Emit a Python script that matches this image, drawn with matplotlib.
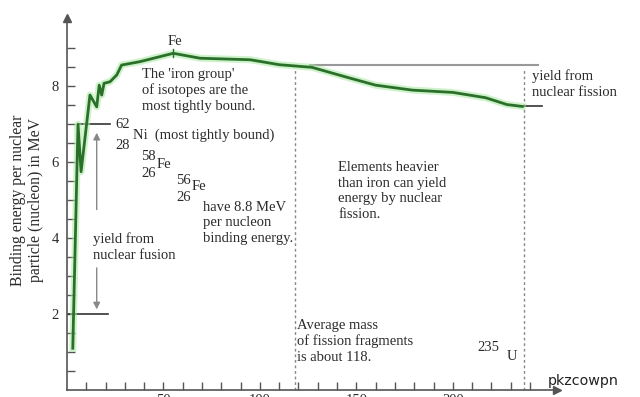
import numpy as np
import matplotlib
matplotlib.use("Agg")
import matplotlib.pyplot as plt
from matplotlib.ticker import FixedLocator

# binding energy per nucleon (MeV) against mass number
mass_number = [3, 5.7, 7.3, 11.9, 15.4, 16.7, 18, 19.2, 22.3, 25.8, 28.3, 37.8,
               55.1, 69, 95, 110, 127, 145, 160, 179, 200, 217, 228, 236]
binding_energy = [1.1, 7.0, 5.75, 7.77, 7.46, 8.03, 7.77, 8.08, 8.12, 8.3, 8.56, 8.65,
                  8.87, 8.74, 8.7, 8.57, 8.5, 8.24, 8.03, 7.9, 7.84, 7.7, 7.52, 7.47]

y_ticks = [2, 4, 6, 8]
x_ticks = [50, 100, 150, 200]

fe_peak = (55.1, 8.87)
fusion_top = 7.0
fusion_bottom = 2.0
fission_top = 8.55
fission_bottom = 7.47
avg_fragment_mass = 118
uranium_mass = 237

txt = "#2b2b2b"
serif = "Liberation Serif"

fig = plt.figure(figsize=(6.4, 3.97), dpi=100)
ax = fig.add_axes([67/640, 7/397, 490/640, 372/397])
ax.set_xlim(0, 254)
ax.set_ylim(0, 9.8)

for s in ["top", "right"]:
    ax.spines[s].set_visible(False)
for s in ["left", "bottom"]:
    ax.spines[s].set_color("#555555")
    ax.spines[s].set_linewidth(1.2)

# arrow heads on the axes
ax.plot(1, 0, ">", color="#555555", ms=6, transform=ax.transAxes, clip_on=False)
ax.plot(0, 1, "^", color="#555555", ms=6, transform=ax.transAxes, clip_on=False)

ax.xaxis.set_major_locator(FixedLocator(x_ticks))
ax.xaxis.set_minor_locator(FixedLocator([t for t in range(10, 250, 10) if t not in x_ticks]))
ax.yaxis.set_major_locator(FixedLocator(y_ticks))
ax.yaxis.set_minor_locator(FixedLocator([t / 2 for t in range(1, 19) if t / 2 not in y_ticks]))
ax.tick_params(axis="both", which="both", direction="in", length=5.5, width=1,
               color="#555555")
ax.tick_params(axis="x", pad=3, labelsize=10.5, labelcolor=txt)
ax.tick_params(axis="y", pad=6, labelsize=10.5, labelcolor=txt)
for lab in ax.get_xticklabels() + ax.get_yticklabels():
    lab.set_family(serif)

# curve with a soft green glow
ax.plot(mass_number, binding_energy, color="#a6e8a0", lw=5, alpha=0.55,
        solid_joinstyle="round", zorder=3)
ax.plot(mass_number, binding_energy, color="#2a702a", lw=2,
        solid_joinstyle="round", zorder=4)

# fusion bracket
ax.plot([5.7, 22.3], [fusion_top, fusion_top], color="#333333", lw=1.2, zorder=2)
ax.plot([0, 21], [fusion_bottom, fusion_bottom], color="#333333", lw=1.2, zorder=2)
ax.annotate("", xy=(15.4, 6.85), xytext=(15.4, 4.68),
            arrowprops=dict(arrowstyle="-|>", color="#888888", lw=1, mutation_scale=10))
ax.annotate("", xy=(15.4, 2.05), xytext=(15.4, 3.29),
            arrowprops=dict(arrowstyle="-|>", color="#888888", lw=1, mutation_scale=10))

# fission bracket
ax.plot([126, 244], [fission_top, fission_top], color="#999999", lw=1.5, zorder=2)
ax.plot([236, 246], [fission_bottom, fission_bottom], color="#333333", lw=1.2, zorder=2)

# dotted verticals
for xv in [avg_fragment_mass, uranium_mass]:
    ax.plot([xv, xv], [0, 8.45], color="#888888", lw=1, ls=(0, (2, 2)), zorder=1)

# Fe marker at the peak
ax.plot([fe_peak[0], fe_peak[0]], [fe_peak[1] - 0.1, fe_peak[1] + 0.12],
        color="#2a702a", lw=1, zorder=4)

fs = 10.5
kw = dict(family=serif, fontsize=fs, color=txt, linespacing=1.25)
ax.text(56, 9.17, "Fe", ha="center", va="center", **kw)
ax.text(38.9, 7.90, "The 'iron group'\nof isotopes are the\nmost tightly bound.",
        ha="left", va="center", **kw)
ax.text(24.9, 7.0, "62", ha="left", va="center", **kw)
ax.text(24.9, 6.45, "28", ha="left", va="center", **kw)
ax.text(34.2, 6.72, "Ni  (most tightly bound)", ha="left", va="center", **kw)
ax.text(38.3, 6.14, "58", ha="left", va="center", **kw)
ax.text(38.3, 5.71, "26", ha="left", va="center", **kw)
ax.text(46.7, 5.95, "Fe", ha="left", va="center", **kw)
ax.text(56.5, 5.53, "56", ha="left", va="center", **kw)
ax.text(56.5, 5.08, "26", ha="left", va="center", **kw)
ax.text(64.8, 5.35, "Fe", ha="left", va="center", **kw)
ax.text(70.5, 4.40, "have 8.8 MeV\nper nucleon\nbinding energy.", ha="left", va="center", **kw)
ax.text(13.5, 3.77, "yield from\nnuclear fusion", ha="left", va="center", **kw)
ax.text(140.5, 5.24, "Elements heavier\nthan iron can yield\nenergy by nuclear\nfission.",
        ha="left", va="center", **kw)
ax.text(241, 8.06, "yield from\nnuclear fission", ha="left", va="center", clip_on=False, **kw)
ax.text(119.2, 1.29, "Average mass\nof fission fragments\nis about 118.", ha="left", va="center", **kw)
ax.text(212.5, 1.13, "235", ha="left", va="center", **kw)
ax.text(228, 0.87, "U", ha="left", va="center", **kw)

fig.text(27/640, 1 - 200/397, "Binding energy per nuclear\nparticle (nucleon) in MeV",
         rotation=90, ha="center", va="center", family=serif, fontsize=11.3,
         color=txt, linespacing=1.2)

fig.text(548/640, 1 - 381/397, "pkzcowpn", ha="left", va="center",
         family="DejaVu Sans", fontsize=10.3, color="#222222")

fig.savefig("out.png", dpi=100, facecolor="white")
